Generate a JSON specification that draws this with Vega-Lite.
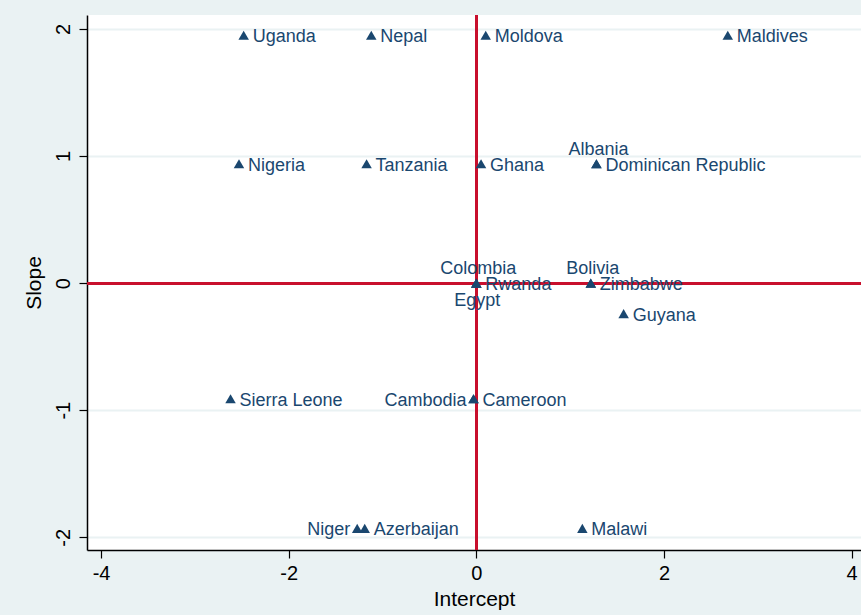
{
  "$schema": "https://vega.github.io/schema/vega-lite/v6.json",
  "autosize": {"type": "none"},
  "width": 774,
  "height": 535,
  "padding": {"left": 87, "top": 15, "right": 0, "bottom": 65},
  "background": "#eaf2f3",
  "config": {
    "view": {"fill": "white", "stroke": null},
    "font": "Liberation Sans",
    "axis": {
      "domainColor": "black",
      "domainWidth": 1.5,
      "tickColor": "black",
      "tickWidth": 1.2,
      "tickSize": 8,
      "labelColor": "black",
      "labelFontSize": 20,
      "titleFontSize": 21,
      "titleFontWeight": "normal",
      "titleColor": "black",
      "labelFont": "Liberation Sans",
      "titleFont": "Liberation Sans",
      "labelExpr": "'' + datum.value"
    }
  },
  "data": {
    "values": [
      {"country": "Uganda", "intercept": -2.48, "slope": 1.95, "pos": "right"},
      {"country": "Nepal", "intercept": -1.12, "slope": 1.95, "pos": "right"},
      {"country": "Moldova", "intercept": 0.10, "slope": 1.95, "pos": "right"},
      {"country": "Maldives", "intercept": 2.68, "slope": 1.95, "pos": "right"},
      {"country": "Nigeria", "intercept": -2.53, "slope": 0.94, "pos": "right"},
      {"country": "Tanzania", "intercept": -1.17, "slope": 0.94, "pos": "right"},
      {"country": "Ghana", "intercept": 0.05, "slope": 0.94, "pos": "right"},
      {"country": "Dominican Republic", "intercept": 1.28, "slope": 0.94, "pos": "right"},
      {"country": "Albania", "intercept": 1.28, "slope": 0.94, "pos": "above"},
      {"country": "Colombia", "intercept": 0.0, "slope": 0.0, "pos": "above"},
      {"country": "Rwanda", "intercept": 0.0, "slope": 0.0, "pos": "right"},
      {"country": "Egypt", "intercept": 0.0, "slope": 0.0, "pos": "below"},
      {"country": "Bolivia", "intercept": 1.22, "slope": 0.0, "pos": "above"},
      {"country": "Zimbabwe", "intercept": 1.22, "slope": 0.0, "pos": "right"},
      {"country": "Guyana", "intercept": 1.57, "slope": -0.24, "pos": "right"},
      {"country": "Sierra Leone", "intercept": -2.62, "slope": -0.91, "pos": "right"},
      {"country": "Cameroon", "intercept": -0.03, "slope": -0.91, "pos": "right"},
      {"country": "Cambodia", "intercept": -0.03, "slope": -0.91, "pos": "left"},
      {"country": "Niger", "intercept": -1.27, "slope": -1.93, "pos": "left"},
      {"country": "Azerbaijan", "intercept": -1.19, "slope": -1.93, "pos": "right"},
      {"country": "Malawi", "intercept": 1.13, "slope": -1.93, "pos": "right"}
    ]
  },
  "encoding": {
    "x": {
      "field": "intercept", "type": "quantitative",
      "scale": {"domain": [-4.15, 4.1], "nice": false, "zero": false},
      "axis": {"values": [-4, -2, 0, 2, 4], "grid": false, "title": "Intercept", "labelPadding": 5, "titlePadding": 5}
    },
    "y": {
      "field": "slope", "type": "quantitative",
      "scale": {"domain": [-2.1, 2.11], "nice": false, "zero": false},
      "axis": {"values": [-2, -1, 0, 1, 2], "grid": true, "gridColor": "#eaf2f3", "gridWidth": 2, "title": "Slope", "labelAngle": -90, "labelPadding": 6, "titlePadding": 9}
    }
  },
  "layer": [
    {"mark": {"type": "rule", "color": "#c8102e", "strokeWidth": 2}, "encoding": {"x": {"datum": 0}, "y": null}},
    {"mark": {"type": "rule", "color": "#c8102e", "strokeWidth": 2}, "encoding": {"y": {"datum": 0}, "x": null}},
    {"mark": {"type": "point", "shape": "triangle-up", "filled": true, "size": 110, "color": "#1a476f", "opacity": 1}},
    {
      "transform": [{"filter": "datum.pos === 'right'"}],
      "mark": {"type": "text", "align": "left", "baseline": "middle", "dx": 9, "dy": 2, "fontSize": 18, "color": "#1a476f"},
      "encoding": {"text": {"field": "country"}}
    },
    {
      "transform": [{"filter": "datum.pos === 'left'"}],
      "mark": {"type": "text", "align": "right", "baseline": "middle", "dx": -7, "dy": 2, "fontSize": 18, "color": "#1a476f"},
      "encoding": {"text": {"field": "country"}}
    },
    {
      "transform": [{"filter": "datum.pos === 'above'"}],
      "mark": {"type": "text", "align": "center", "baseline": "middle", "dx": 2, "dy": -14, "fontSize": 18, "color": "#1a476f"},
      "encoding": {"text": {"field": "country"}}
    },
    {
      "transform": [{"filter": "datum.pos === 'below'"}],
      "mark": {"type": "text", "align": "center", "baseline": "middle", "dx": 1, "dy": 18, "fontSize": 18, "color": "#1a476f"},
      "encoding": {"text": {"field": "country"}}
    }
  ]
}
